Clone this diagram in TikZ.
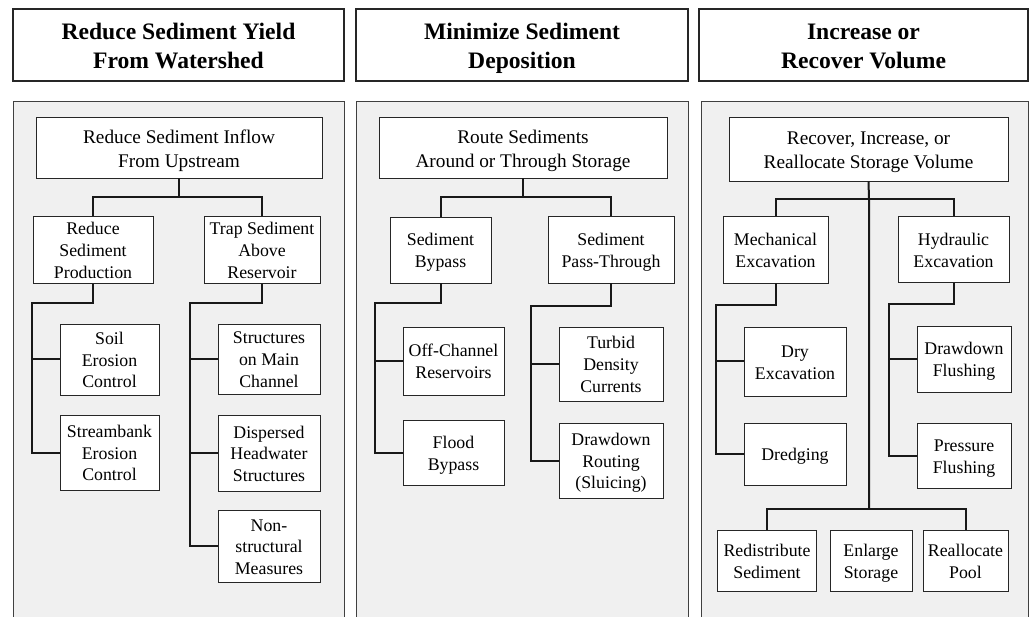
\documentclass[tikz,border=0pt]{standalone}
\usepackage{fontspec}
\setmainfont{Liberation Serif}
\newcommand\hdrtop{\rule{0pt}{25.3pt}}
\newcommand\hdrbot{\rule[-7pt]{0pt}{7pt}}
\newcommand\tbtop{\rule{0pt}{21.4pt}}
\newcommand\tbbot{\rule[-6pt]{0pt}{6pt}}
\newcommand\sbtop{\rule{0pt}{18.4pt}}
\newcommand\sbbot{\rule[-5pt]{0pt}{5pt}}
\begin{document}
\begin{tikzpicture}[x=1pt,y=-1pt,
  hdr/.style={draw=black!85, line width=1.1pt, fill=white, inner sep=0pt, align=center,
    font=\fontsize{23.6}{28.3}\selectfont\bfseries},
  panelfill/.style={fill=black!6, draw=none},
  paneledge/.style={draw=black!75, line width=1pt},
  topbox/.style={draw=black!85, line width=0.9pt, fill=white, inner sep=0pt, align=center,
    font=\fontsize{19.3}{24}\selectfont},
  sbox/.style={draw=black!85, line width=0.9pt, fill=white, inner sep=0pt, align=center,
    font=\fontsize{17.8}{21.7}\selectfont},
  link/.style={draw=black!90, line width=2pt}
]
\useasboundingbox (0,0) rectangle (1031,617);
\fill[white] (0,0) rectangle (1031,617);

% headers
\node[hdr, minimum width=331pt, minimum height=72pt] (H1) at (178.5,45) {\hdrtop Reduce Sediment Yield\\From Watershed\hdrbot};
\node[hdr, minimum width=332pt, minimum height=72pt] (H2) at (522,45) {\hdrtop Minimize Sediment\\Deposition\hdrbot};
\node[hdr, minimum width=329pt, minimum height=72pt] (H3) at (863.5,45) {\hdrtop Increase or\\Recover Volume\hdrbot};

% panels
\fill[panelfill] (13,102) rectangle (344,617);
\draw[paneledge] (13,620) -- (13,102) -- (344,102) -- (344,620);
\fill[panelfill] (356,102) rectangle (688,617);
\draw[paneledge] (356,620) -- (356,102) -- (688,102) -- (688,620);
\fill[panelfill] (701,102) rectangle (1028,617);
\draw[paneledge] (701,620) -- (701,102) -- (1028,102) -- (1028,620);

% ---------- panel 1 ----------
\node[topbox, minimum width=286pt, minimum height=61pt] (top1) at (179,147.5) {\tbtop Reduce Sediment Inflow\\From Upstream\tbbot};
\node[sbox, minimum width=120pt, minimum height=67pt] (a1) at (93,250) {\sbtop Reduce\\Sediment\\Production\sbbot};
\node[sbox, minimum width=116pt, minimum height=67pt] (a2) at (262,250) {\sbtop Trap Sediment\\Above\\Reservoir\sbbot};
\node[sbox, minimum width=99pt, minimum height=71pt] (b1) at (109.5,359.5) {\sbtop Soil\\Erosion\\Control\sbbot};
\node[sbox, minimum width=99pt, minimum height=75pt] (b2) at (109.5,452.5) {\sbtop Streambank\\Erosion\\Control\sbbot};
\node[sbox, minimum width=102pt, minimum height=70pt] (c1) at (269,359) {\sbtop Structures\\on Main\\Channel\sbbot};
\node[sbox, minimum width=102pt, minimum height=76pt] (c2) at (269,453) {\sbtop Dispersed\\Headwater\\Structures\sbbot};
\node[sbox, minimum width=102pt, minimum height=72pt] (c3) at (269,546) {\sbtop Non-\\structural\\Measures\sbbot};

\coordinate (j1) at (179,197);
\coordinate (t1) at (32,303);
\coordinate (t2) at (190,303);
\draw[link] (top1.south) -- (j1);
\draw[link] (a1.north) |- (j1) -| (a2.north);
\draw[link] (a1.south) |- (t1) |- (b2.west);
\draw[link] (t1 |- b1.west) -- (b1.west);
\draw[link] (a2.south) |- (t2) |- (c3.west);
\draw[link] (t2 |- c1.west) -- (c1.west);
\draw[link] (t2 |- c2.west) -- (c2.west);

% ---------- panel 2 ----------
\node[topbox, minimum width=288pt, minimum height=61pt] (top2) at (523,147.5) {\tbtop Route Sediments\\Around or Through Storage\tbbot};
\node[sbox, minimum width=101pt, minimum height=66pt] (d1) at (440.5,250) {\sbtop Sediment\\Bypass\sbbot};
\node[sbox, minimum width=126pt, minimum height=67pt] (d2) at (611,249.5) {\sbtop Sediment\\Pass-Through\sbbot};
\node[sbox, minimum width=101pt, minimum height=68pt] (e1) at (453.5,361) {\sbtop Off-Channel\\Reservoirs\sbbot};
\node[sbox, minimum width=101pt, minimum height=65pt] (e2) at (453.5,452.5) {\sbtop Flood\\Bypass\sbbot};
\node[sbox, minimum width=104pt, minimum height=74pt] (f1) at (611,364) {\sbtop Turbid\\Density\\Currents\sbbot};
\node[sbox, minimum width=104pt, minimum height=75pt] (f2) at (611,460.5) {\sbtop Drawdown\\Routing\\(Sluicing)\sbbot};

\coordinate (j2) at (523,197);
\coordinate (t3) at (375,303);
\coordinate (t4) at (531,306);
\draw[link] (top2.south) -- (j2);
\draw[link] (d1.north) |- (j2) -| (d2.north);
\draw[link] (d1.south) |- (t3) |- (e2.west);
\draw[link] (t3 |- e1.west) -- (e1.west);
\draw[link] (d2.south) |- (t4) |- (f2.west);
\draw[link] (t4 |- f1.west) -- (f1.west);

% ---------- panel 3 ----------
\node[topbox, minimum width=279pt, minimum height=64pt] (top3) at (868.5,149) {\tbtop Recover, Increase, or\\Reallocate Storage Volume\tbbot};
\node[sbox, minimum width=105pt, minimum height=67pt] (g1) at (775.5,249.5) {\sbtop Mechanical\\Excavation\sbbot};
\node[sbox, minimum width=111pt, minimum height=66pt] (g2) at (953.5,249.5) {\sbtop Hydraulic\\Excavation\sbbot};
\node[sbox, minimum width=102pt, minimum height=69pt] (h1) at (795,361.5) {\sbtop Dry\\Excavation\sbbot};
\node[sbox, minimum width=102pt, minimum height=62pt] (h2) at (795,454) {\sbtop Dredging\sbbot};
\node[sbox, minimum width=94pt, minimum height=66pt] (i1) at (964,359) {\sbtop Drawdown\\Flushing\sbbot};
\node[sbox, minimum width=94pt, minimum height=65pt] (i2) at (964,455.5) {\sbtop Pressure\\Flushing\sbbot};
\node[sbox, minimum width=99pt, minimum height=61pt] (k1) at (767,560.5) {\sbtop Redistribute\\Sediment\sbbot};
\node[sbox, minimum width=82pt, minimum height=61pt] (k2) at (871,560.5) {\sbtop Enlarge\\Storage\sbbot};
\node[sbox, minimum width=85pt, minimum height=61pt] (k3) at (965.5,560.5) {\sbtop Reallocate\\Pool\sbbot};

\coordinate (j3) at (869,199);
\coordinate (j4) at (869,509);
\coordinate (t5) at (716,305);
\coordinate (t6) at (889,304);
\draw[link] (top3.south) -- (j3) -- (j4);
\draw[link] (g1.north) |- (j3) -| (g2.north);
\draw[link] (g1.south) |- (t5) |- (h2.west);
\draw[link] (t5 |- h1.west) -- (h1.west);
\draw[link] (g2.south) |- (t6) |- (i2.west);
\draw[link] (t6 |- i1.west) -- (i1.west);
\draw[link] (k1.north) |- (j4) -| (k3.north);
\end{tikzpicture}
\end{document}
